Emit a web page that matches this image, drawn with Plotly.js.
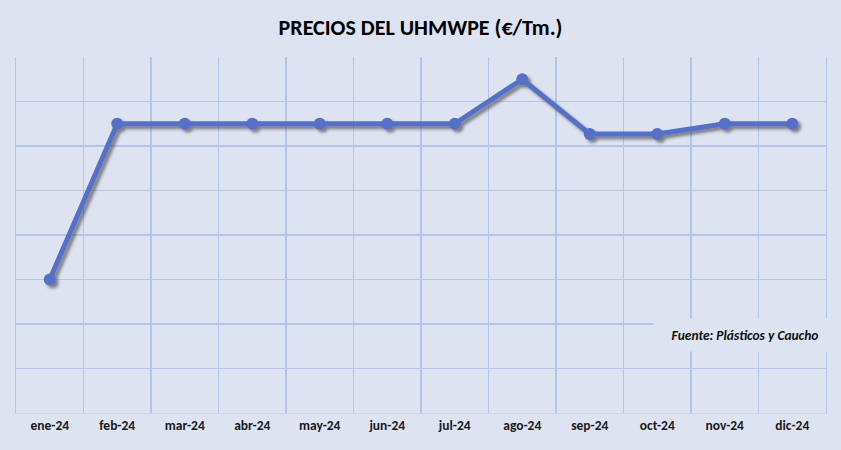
<!DOCTYPE html>
<html>
<head>
<meta charset="utf-8">
<script src="https://cdn.plot.ly/plotly-3.0.1.min.js"></script>
<style>
  body { margin: 0; background: #dee3f2; }
  #chart { width: 841px; height: 450px; }
</style>
</head>
<body>
<div id="chart"></div>
<script>
// meses del 2024
var months = ['ene-24', 'feb-24', 'mar-24', 'abr-24', 'may-24', 'jun-24',
              'jul-24', 'ago-24', 'sep-24', 'oct-24', 'nov-24', 'dic-24'];
// precio (sin escala visible en el original, unidades de rejilla)
var prices = [3.0, 6.5, 6.5, 6.5, 6.5, 6.5, 6.5, 7.5, 6.27, 6.27, 6.5, 6.5];

var titleText = '<b>PRECIOS DEL UHMWPE (€/Tm.)</b>';
var sourceText = '<b><i>Fuente: Plásticos y Caucho</i></b>';

var gridColor = '#b3c5ea';
var bg = '#dee3f2';
var fontFam = 'Carlito, Lato, "Open Sans", sans-serif';

var data = [{
    x: months,
    y: prices,
    type: 'scatter',
    mode: 'lines+markers',
    line: { color: '#5470c6', width: 5 },
    marker: { color: '#5470c6', size: 12 },
    hoverinfo: 'x+y'
}];

var layout = {
    width: 841,
    height: 450,
    paper_bgcolor: bg,
    plot_bgcolor: bg,
    margin: { l: 16, r: 15, t: 57, b: 37, pad: 0 },
    showlegend: false,
    title: {
        text: titleText,
        x: 0.5,
        xanchor: 'center',
        y: 0.94,
        yanchor: 'middle',
        font: { family: fontFam, size: 22, color: '#000000' }
    },
    xaxis: {
        type: 'category',
        range: [-0.5, 11.5],
        tickson: 'boundaries',
        showgrid: true,
        gridcolor: gridColor,
        gridwidth: 1.3,
        showline: true,
        linecolor: '#d4d6dc',
        linewidth: 1,
        ticks: '',
        tickfont: { family: fontFam, size: 13.5, color: '#1a1a1a', weight: 'bold' },
        fixedrange: true
    },
    yaxis: {
        range: [0, 8],
        dtick: 1,
        showticklabels: false,
        showgrid: true,
        gridcolor: gridColor,
        gridwidth: 1.3,
        zeroline: false,
        showline: true,
        mirror: true,
        linecolor: gridColor,
        linewidth: 1.3,
        fixedrange: true
    },
    annotations: [{
        text: sourceText,
        xref: 'paper', yref: 'paper',
        x: 0.9, y: 0.219,
        xanchor: 'center', yanchor: 'middle',
        width: 180, height: 30,
        bgcolor: bg,
        showarrow: false,
        font: { family: fontFam, size: 13.5, color: '#111111' }
    }]
};

var config = { staticPlot: true };

Plotly.newPlot('chart', data, layout, config).then(function (gd) {
    // sombra de la linea, como en el grafico original
    var svg = gd.querySelector('svg.main-svg');
    var defs = svg.querySelector('defs');
    var ns = 'http://www.w3.org/2000/svg';
    var f = document.createElementNS(ns, 'filter');
    f.setAttribute('id', 'lineshadow');
    f.setAttribute('x', '-10%'); f.setAttribute('y', '-10%');
    f.setAttribute('width', '130%'); f.setAttribute('height', '130%');
    var ds = document.createElementNS(ns, 'feDropShadow');
    ds.setAttribute('dx', '3'); ds.setAttribute('dy', '3');
    ds.setAttribute('stdDeviation', '1.5');
    ds.setAttribute('flood-color', '#303030');
    ds.setAttribute('flood-opacity', '0.55');
    f.appendChild(ds);
    defs.appendChild(f);
    var tr = gd.querySelectorAll('.scatterlayer .trace');
    for (var i = 0; i < tr.length; i++) {
        tr[i].setAttribute('filter', 'url(#lineshadow)');
    }
});
</script>
</body>
</html>
